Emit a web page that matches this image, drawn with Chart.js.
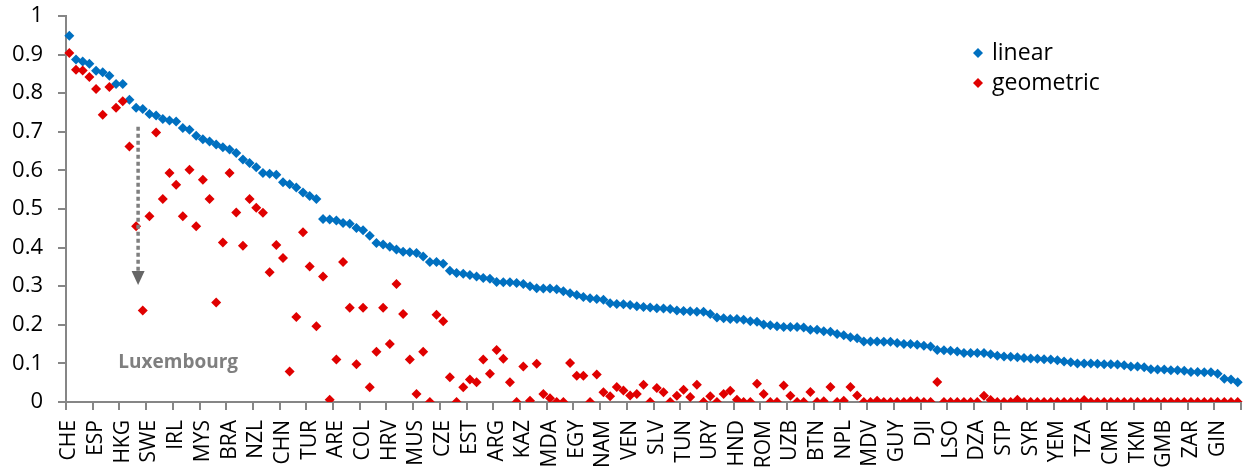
<!DOCTYPE html>
<html>
<head>
<meta charset="utf-8">
<title>linear vs geometric</title>
<script src="https://cdn.jsdelivr.net/npm/chart.js"></script>
<style>
  html, body { margin: 0; padding: 0; background: #fff; }
  #wrap { width: 1246px; height: 470px; }
</style>
</head>
<body>
<div id="wrap"><canvas id="mainChart" width="1246" height="470"></canvas></div>
<script>
// every 4th country gets a label on the axis
const tickLabels = ['CHE', 'ESP', 'HKG', 'SWE', 'IRL', 'MYS', 'BRA', 'NZL', 'CHN', 'TUR',
  'ARE', 'COL', 'HRV', 'MUS', 'CZE', 'EST', 'ARG', 'KAZ', 'MDA', 'EGY',
  'NAM', 'VEN', 'SLV', 'TUN', 'URY', 'HND', 'ROM', 'UZB', 'BTN', 'NPL',
  'MDV', 'GUY', 'DJI', 'LSO', 'DZA', 'STP', 'SYR', 'YEM', 'TZA', 'CMR',
  'TKM', 'GMB', 'ZAR', 'GIN'];

const linear = [
  0.949, 0.887, 0.882, 0.876, 0.858, 0.854, 0.845, 0.824, 0.824, 0.783,
  0.762, 0.759, 0.746, 0.742, 0.733, 0.729, 0.727, 0.710, 0.705, 0.690,
  0.681, 0.675, 0.667, 0.660, 0.654, 0.645, 0.628, 0.619, 0.608, 0.593,
  0.591, 0.589, 0.569, 0.564, 0.556, 0.543, 0.534, 0.526, 0.474, 0.473,
  0.470, 0.464, 0.462, 0.451, 0.445, 0.431, 0.412, 0.408, 0.402, 0.395,
  0.389, 0.388, 0.386, 0.377, 0.363, 0.363, 0.358, 0.340, 0.334, 0.332,
  0.329, 0.325, 0.321, 0.319, 0.311, 0.310, 0.310, 0.308, 0.306, 0.300,
  0.295, 0.294, 0.294, 0.292, 0.287, 0.282, 0.277, 0.272, 0.269, 0.267,
  0.265, 0.256, 0.254, 0.253, 0.251, 0.248, 0.246, 0.245, 0.243, 0.242,
  0.241, 0.237, 0.236, 0.235, 0.234, 0.234, 0.228, 0.219, 0.217, 0.215,
  0.215, 0.213, 0.209, 0.208, 0.201, 0.199, 0.196, 0.194, 0.194, 0.194,
  0.193, 0.187, 0.187, 0.183, 0.182, 0.176, 0.173, 0.168, 0.165, 0.157,
  0.157, 0.157, 0.156, 0.156, 0.153, 0.150, 0.150, 0.148, 0.146, 0.144,
  0.135, 0.134, 0.133, 0.131, 0.127, 0.127, 0.127, 0.127, 0.124, 0.120,
  0.118, 0.117, 0.116, 0.114, 0.113, 0.112, 0.111, 0.110, 0.108, 0.105,
  0.103, 0.100, 0.100, 0.100, 0.099, 0.098, 0.098, 0.097, 0.095, 0.092,
  0.092, 0.090, 0.085, 0.084, 0.084, 0.082, 0.082, 0.081, 0.078, 0.078,
  0.077, 0.077, 0.073, 0.060, 0.058, 0.051
];

const geometric = [
  0.904, 0.861, 0.859, 0.842, 0.811, 0.744, 0.816, 0.762, 0.779, 0.662,
  0.455, 0.237, 0.481, 0.698, 0.526, 0.593, 0.563, 0.481, 0.602, 0.455,
  0.576, 0.526, 0.258, 0.413, 0.593, 0.491, 0.405, 0.526, 0.503, 0.490,
  0.336, 0.407, 0.373, 0.079, 0.220, 0.440, 0.351, 0.196, 0.325, 0.006,
  0.110, 0.363, 0.244, 0.098, 0.244, 0.038, 0.130, 0.244, 0.150, 0.306,
  0.228, 0.110, 0.021, 0.130, 0.000, 0.226, 0.209, 0.064, 0.000, 0.038,
  0.058, 0.051, 0.110, 0.073, 0.135, 0.112, 0.051, 0.000, 0.092, 0.003,
  0.099, 0.021, 0.010, 0.000, 0.000, 0.101, 0.068, 0.068, 0.000, 0.071,
  0.025, 0.015, 0.039, 0.030, 0.017, 0.021, 0.045, 0.000, 0.036, 0.025,
  0.000, 0.016, 0.032, 0.013, 0.045, 0.000, 0.015, 0.000, 0.021, 0.029,
  0.006, 0.000, 0.000, 0.047, 0.021, 0.000, 0.000, 0.043, 0.016, 0.000,
  0.000, 0.026, 0.000, 0.002, 0.039, 0.000, 0.003, 0.039, 0.017, 0.000,
  0.000, 0.003, 0.000, 0.000, 0.000, 0.000, 0.002, 0.002, 0.000, 0.000,
  0.052, 0.000, 0.000, 0.000, 0.000, 0.000, 0.000, 0.016, 0.005, 0.000,
  0.000, 0.000, 0.006, 0.000, 0.000, 0.000, 0.000, 0.000, 0.000, 0.000,
  0.000, 0.000, 0.005, 0.000, 0.000, 0.000, 0.000, 0.000, 0.000, 0.000,
  0.000, 0.000, 0.000, 0.000, 0.000, 0.000, 0.000, 0.000, 0.000, 0.000,
  0.000, 0.000, 0.000, 0.000, 0.000, 0.000
];

const categories = linear.map((v, i) => (i % 4 === 0 ? tickLabels[i / 4] : ''));

const AXIS = '#868686';
const NOTE = '#7f7f7f';
const FONT = "'Open Sans', sans-serif";

// Luxembourg callout (arrow + text), placed in data units
const arrowAt = { index: 10.3, from: 0.713, to: 0.303 };
const luxNote = { text: 'Luxembourg', index: 16.3, value: 0.101 };

const extrasPlugin = {
  id: 'extras',
  afterDatasetsDraw(chart) {
    const { ctx, scales: { x, y } } = chart;
    const ax = x.getPixelForValue(arrowAt.index);
    const top = y.getPixelForValue(arrowAt.from);
    const tip = y.getPixelForValue(arrowAt.to);

    ctx.save();
    ctx.strokeStyle = NOTE;
    ctx.lineWidth = 3.5;
    ctx.setLineDash([4, 3]);
    ctx.beginPath();
    ctx.moveTo(ax, top);
    ctx.lineTo(ax, tip - 14);
    ctx.stroke();
    ctx.setLineDash([]);

    ctx.fillStyle = '#666';
    ctx.beginPath();
    ctx.moveTo(ax - 6.5, tip - 14);
    ctx.lineTo(ax + 6.5, tip - 14);
    ctx.lineTo(ax, tip);
    ctx.closePath();
    ctx.fill();

    ctx.fillStyle = NOTE;
    ctx.font = 'bold 19px ' + FONT;
    ctx.textAlign = 'center';
    ctx.textBaseline = 'middle';
    ctx.fillText(luxNote.text, x.getPixelForValue(luxNote.index), y.getPixelForValue(luxNote.value));
    ctx.restore();
  },
  afterDraw(chart) {
    // legend sits inside the plot, top right
    const { ctx, chartArea } = chart;
    const lx = chartArea.right - 263;
    let ly = chartArea.top + 37;
    ctx.save();
    ctx.font = '23px ' + FONT;
    ctx.textBaseline = 'middle';
    ctx.textAlign = 'left';
    chart.data.datasets.forEach(ds => {
      ctx.fillStyle = ds.pointBackgroundColor;
      ctx.beginPath();
      ctx.moveTo(lx - 5, ly);
      ctx.lineTo(lx, ly - 5);
      ctx.lineTo(lx + 5, ly);
      ctx.lineTo(lx, ly + 5);
      ctx.closePath();
      ctx.fill();
      ctx.fillStyle = '#000';
      ctx.fillText(ds.label, lx + 14, ly);
      ly += 30;
    });
    ctx.restore();
  }
};

function series(label, data, color, order) {
  return {
    label: label,
    data: data,
    showLine: false,
    pointStyle: 'rectRot',
    pointRadius: 5,
    pointHoverRadius: 5,
    pointBorderWidth: 0,
    pointBackgroundColor: color,
    pointBorderColor: color,
    backgroundColor: color,
    borderColor: color,
    order: order
  };
}

new Chart(document.getElementById('mainChart'), {
  type: 'line',
  data: {
    labels: categories,
    datasets: [
      series('linear', linear, '#0070C0', 2),
      series('geometric', geometric, '#E00000', 1)
    ]
  },
  options: {
    responsive: false,
    animation: false,
    events: [],
    layout: { padding: { top: 16, right: 4, left: 0, bottom: 0 } },
    plugins: {
      legend: { display: false },
      tooltip: { enabled: false }
    },
    scales: {
      x: {
        offset: true,
        grid: {
          offset: true,
          drawOnChartArea: false,
          drawTicks: true,
          tickLength: 8,
          lineWidth: 2,
          tickColor: c => (c.type !== 'tick' || c.index % 4 === 0 ? AXIS : 'rgba(0,0,0,0)')
        },
        border: { color: AXIS, width: 2 },
        ticks: {
          autoSkip: false,
          maxRotation: 90,
          minRotation: 90,
          padding: 10,
          color: '#000',
          font: { family: FONT, size: 21 }
        },
        afterFit: s => {
          s.height = 68;
          s.paddingLeft = 0;
          s.paddingRight = 0;
        }
      },
      y: {
        min: 0,
        max: 1,
        grid: { drawOnChartArea: false, tickLength: 8, lineWidth: 2, tickColor: AXIS },
        border: { color: AXIS, width: 2 },
        ticks: {
          stepSize: 0.1,
          padding: 15,
          color: '#000',
          font: { family: FONT, size: 22 },
          callback: v => String(Math.round(v * 10) / 10)
        },
        afterFit: s => {
          s.width = 66;
          s.paddingTop = 0;
          s.paddingBottom = 0;
        }
      }
    }
  },
  plugins: [extrasPlugin]
});
</script>
</body>
</html>
